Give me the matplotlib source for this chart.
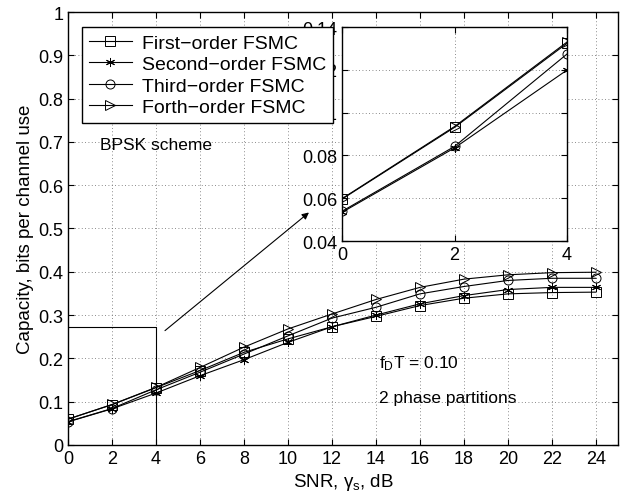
import matplotlib
matplotlib.use("Agg")
import matplotlib.pyplot as plt
import numpy as np

plt.rcParams['font.family'] = ['Liberation Sans', 'DejaVu Sans']
plt.rcParams['mathtext.fontset'] = 'custom'
plt.rcParams['mathtext.rm'] = 'Liberation Sans'
plt.rcParams['mathtext.it'] = 'Liberation Sans'

# data
snr = [0, 2, 4, 6, 8, 10, 12, 14, 16, 18, 20, 22, 24]
first_order = [0.0596, 0.0931, 0.1324, 0.172, 0.214, 0.245, 0.273, 0.297, 0.322, 0.339, 0.349, 0.352, 0.353]
second_order = [0.0534, 0.0835, 0.1199, 0.160, 0.197, 0.237, 0.273, 0.300, 0.326, 0.345, 0.359, 0.364, 0.364]
third_order = [0.0539, 0.0842, 0.1274, 0.168, 0.210, 0.252, 0.293, 0.318, 0.349, 0.366, 0.380, 0.385, 0.385]
forth_order = [0.0598, 0.0935, 0.1330, 0.179, 0.226, 0.268, 0.3025, 0.336, 0.364, 0.383, 0.393, 0.398, 0.399]

labels = ["First\u2212order FSMC", "Second\u2212order FSMC", "Third\u2212order FSMC", "Forth\u2212order FSMC"]
series = [first_order, second_order, third_order, forth_order]
markers = ['s', (6, 2, 0), 'o', '>']

fig = plt.figure(figsize=(6.27, 5.02), dpi=100)
ax = fig.add_axes([0.1085, 0.1116, 0.877, 0.8625])


def style_axes(a):
    a.tick_params(direction='in', top=True, right=True, labelsize=13, length=4, width=0.8)
    a.grid(True, linestyle=(0, (1, 3)), color='#666666', linewidth=0.6)
    for s in a.spines.values():
        s.set_linewidth(1.0)


handles = []
for y, lab, m in zip(series, labels, markers):
    h, = ax.plot(snr, y, color='black', linewidth=0.8, marker=m, markersize=6.5,
                 markerfacecolor='none', markeredgecolor='black', markeredgewidth=0.7, label=lab)
    handles.append(h)

ax.set_xlim(0, 25)
ax.set_ylim(0, 1)
ax.set_xticks(np.arange(0, 25, 2))
ax.set_yticks(np.arange(0, 1.01, 0.1))
ax.set_yticklabels(['0', '0.1', '0.2', '0.3', '0.4', '0.5', '0.6', '0.7', '0.8', '0.9', '1'])
style_axes(ax)
ax.set_xlabel(r'SNR, $\gamma_s$, dB', fontsize=13.5, labelpad=3)
ax.set_ylabel('Capacity, bits per channel use', fontsize=13.5, labelpad=3)

# zoom box and arrow
ax.plot([0, 4, 4], [0.272, 0.272, 0], color='black', linewidth=0.8)
ax.annotate('', xy=(11.05, 0.541), xytext=(4.31, 0.26),
            arrowprops=dict(arrowstyle='-|>', color='black', lw=0.8, mutation_scale=10))

ax.text(1.45, 0.695, 'BPSK scheme', fontsize=12.5, va='center')
ax.text(14.15, 0.191, r'f$_\mathregular{D}$T = 0.10', fontsize=12.5, va='center')
ax.text(14.13, 0.110, '2 phase partitions', fontsize=12.5, va='center')

# inset
ins = fig.add_axes([0.5455, 0.5179, 0.3589, 0.4263])
for y, m in zip(series, markers):
    ins.plot(snr[:3], y[:3], color='black', linewidth=0.8, marker=m, markersize=6.5,
             markerfacecolor='none', markeredgecolor='black', markeredgewidth=0.7)
ins.set_xlim(0, 4)
ins.set_ylim(0.04, 0.14)
ins.set_xticks([0, 2, 4])
ins.set_yticks([0.04, 0.06, 0.08, 0.10, 0.12, 0.14])
ins.set_yticklabels(['0.04', '0.06', '0.08', '0.1', '0.12', '0.14'])
style_axes(ins)

fig.legend(handles=handles, loc='upper left', bbox_to_anchor=(0.131, 0.944),
           fontsize=14, frameon=True, fancybox=False, edgecolor='black',
           framealpha=1, borderpad=0.35, labelspacing=0.2, handlelength=2.2,
           handletextpad=0.55, borderaxespad=0)

fig.savefig('out.png', dpi=100)
